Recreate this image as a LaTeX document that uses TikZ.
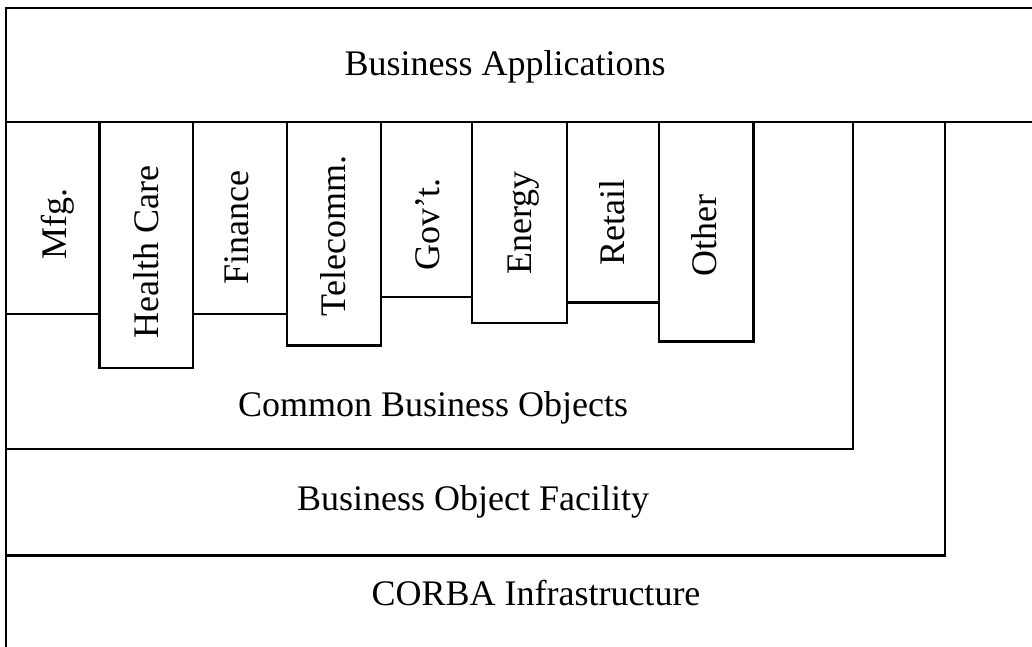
\documentclass[tikz,border=0pt]{standalone}
\usepackage{fontspec}
\setmainfont{Liberation Serif}
\begin{document}
\begin{tikzpicture}[x=1pt, y=-1pt,
  edge/.style={draw=black, line width=2.3pt},
  lbl/.style={font=\fontsize{36}{40}\selectfont, inner sep=0pt, anchor=base},
  tablbl/.style={lbl, rotate=90}]
\useasboundingbox (0,0) rectangle (1032,647);

% corner points of the layers
\coordinate (tl) at (6,8);
\coordinate (tr) at (1032,8);
\coordinate (bl) at (6,647);
\coordinate (ml) at (6,122);
\coordinate (mr) at (1032,122);
\coordinate (cboT) at (853,122);
\coordinate (cboB) at (853,449);
\coordinate (cboL) at (6,449);
\coordinate (bofT) at (945,122);
\coordinate (bofB) at (945,555.5);
\coordinate (bofL) at (6,555.5);

% vertical domain tabs hanging below the application layer
\foreach \l/\r/\b in {6/99.5/314, 99.5/193/368, 193/287/314, 287/381/345.5,
                      381/472/297, 472/567/323, 567/659/302.5, 659/753.5/341.5}
  \draw[edge] (\l,122) rectangle (\r,\b);

% layer outlines
\draw[edge] (tr) -- (tl) -- (bl);
\draw[edge] (ml) -- (mr);
\draw[edge] (cboL) -- (cboB) -- (cboT);
\draw[edge] (bofL) -- (bofB) -- (bofT);

% layer labels
\node[lbl] (apps)  at (505,76)    {Business Applications};
\node[lbl] (cbo)   at (433,416.7) {Common Business Objects};
\node[lbl] (bof)   at (473,510.7) {Business Object Facility};
\node[lbl] (corba) at (536,605.7) {CORBA Infrastructure};

% domain labels
\node[tablbl] (mfg)     at (66.5,224.2)  {Mfg.};
\node[tablbl] (health)  at (158.3,252)   {Health Care};
\node[tablbl] (finance) at (248.3,227.5) {Finance};
\node[tablbl] (telecom) at (345,235.8)   {Telecomm.};
\node[tablbl] (govt)    at (439.5,224.2) {Gov’t.};
\node[tablbl] (energy)  at (531.7,223.3) {Energy};
\node[tablbl] (retail)  at (624,222.8)   {Retail};
\node[tablbl] (other)   at (716,235.3)   {Other};
\end{tikzpicture}
\end{document}
